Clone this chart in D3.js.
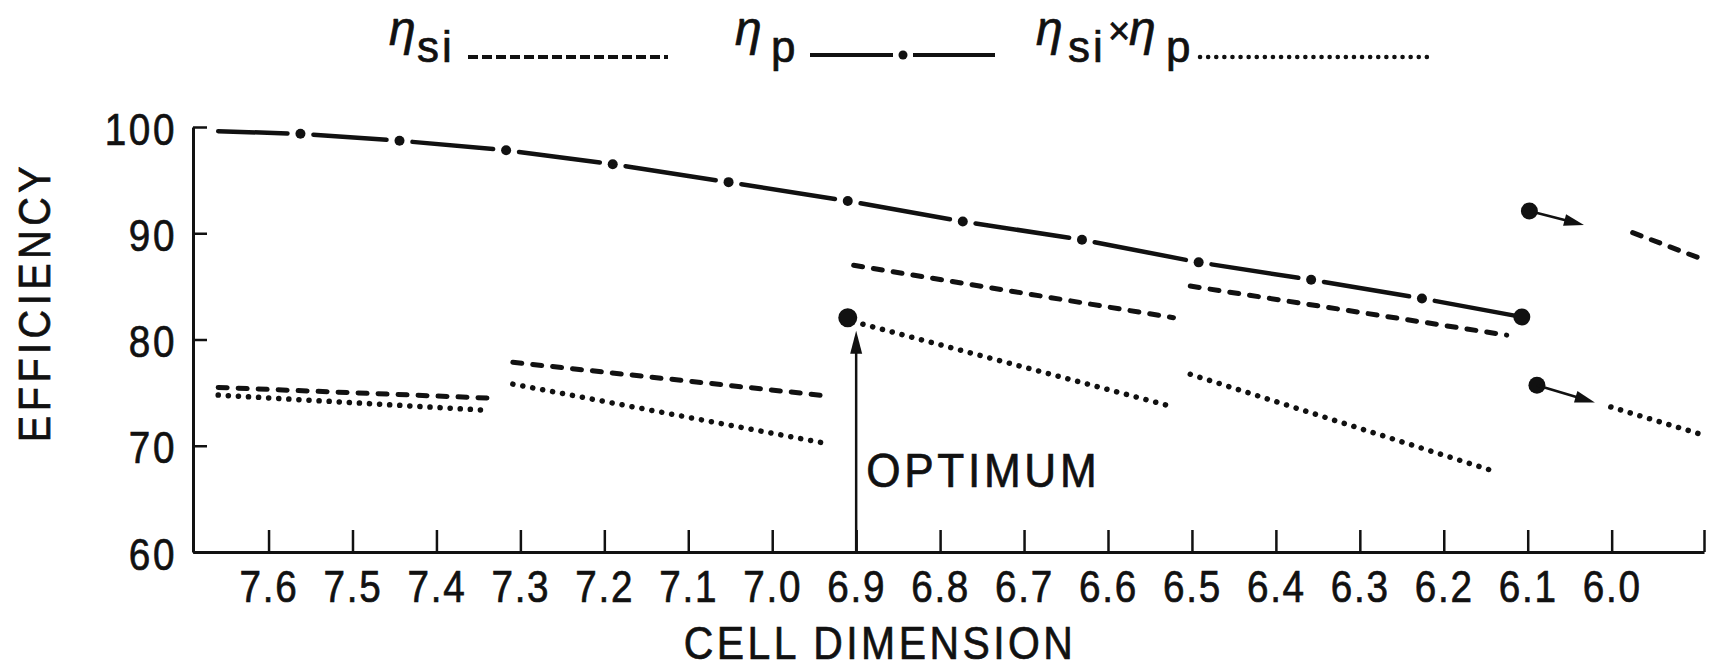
<!DOCTYPE html>
<html><head><meta charset="utf-8">
<script src="https://cdn.jsdelivr.net/npm/d3@7"></script>
<style>
html,body{margin:0;padding:0;background:#fff;}
svg{display:block;}
text{font-family:"Liberation Sans",Arial,Helvetica,sans-serif;fill:#111;stroke:#111;stroke-width:0.7px;}
</style></head><body>
<svg id="chart" width="1714" height="671"></svg>
<script>
// Axis ticks: cell dimension runs from large (left) to small (right)
const cellTicks = [7.6,7.5,7.4,7.3,7.2,7.1,7.0,6.9,6.8,6.7,6.6,6.5,6.4,6.3,6.2,6.1,6.0];
const effTicks = [60,70,80,90,100];

// η_p dash-dot curve; the first point only starts the line, the rest carry dots
const etaPX = [7.66,7.562,7.444,7.317,7.190,7.052,6.910,6.773,6.631,6.492,6.358,6.226,6.107];
const etaPY = [99.6,99.36,98.71,97.81,96.50,94.81,93.03,91.11,89.39,87.26,85.62,83.86,82.12];

// η_si dashed segments (start, end)
const etaSiSegments = [
  [[7.660,75.49],[7.332,74.47]],
  [[7.309,77.85],[6.932,74.67]],
  [[6.903,86.98],[6.522,82.05]],
  [[6.502,85.03],[6.125,80.41]],
  [[5.975,90.06],[5.890,87.50]]
];
// η_si × η_p dotted segments (start, end)
const productSegments = [
  [[7.660,74.77],[7.340,73.34]],
  [[7.309,75.80],[6.932,70.16]],
  [[6.892,81.44],[6.522,73.65]],
  [[6.502,76.73],[6.144,67.70]],
  [[6.001,73.65],[5.890,70.99]]
];

// Optimum point and the two markers that carry over past 6.1
const optimum = [6.91,82.05];
const carryMarkers = [
  {from:[6.098,92.10], to:[6.033,90.78]},
  {from:[6.089,75.69], to:[6.020,74.08]}
];

const svg = d3.select("#chart");
const pLeft = 193, pRight = 1704, pTop = 127, pBottom = 552;

const x = d3.scaleLinear().domain([7.69,5.89]).range([pLeft,pRight]);
const y = d3.scaleLinear().domain([60,100]).range([pBottom,pTop]);

const ink = "#111";
const squeeze = 0.86;   // narrow, tall lettering

// y axis with inward ticks
const yAxis = svg.append("g").attr("transform",`translate(${pLeft},0)`)
  .call(d3.axisLeft(y).tickValues(effTicks).tickSizeInner(-14).tickSizeOuter(0).tickPadding(18));
yAxis.select(".domain").attr("stroke",ink).attr("stroke-width",3);
yAxis.selectAll(".tick line").attr("stroke",ink).attr("stroke-width",2.5);
yAxis.selectAll(".tick text").attr("font-size",45).attr("letter-spacing",3).attr("fill",ink).attr("font-family",null)
  .attr("x",-16/squeeze).attr("dy","0.38em").attr("transform",`scale(${squeeze},1)`);

// x axis with inward ticks; the last tick closes the frame
const xAxis = svg.append("g").attr("transform",`translate(0,${pBottom})`)
  .call(d3.axisBottom(x).tickValues(cellTicks.concat([5.89])).tickFormat(d => d < 5.95 ? "" : d3.format(".1f")(d))
    .tickSizeInner(-22).tickSizeOuter(0).tickPadding(18));
xAxis.select(".domain").attr("stroke",ink).attr("stroke-width",3);
xAxis.selectAll(".tick line").attr("stroke",ink).attr("stroke-width",2.5);
xAxis.selectAll(".tick text").attr("font-size",45).attr("letter-spacing",2).attr("fill",ink).attr("font-family",null)
  .attr("transform",`scale(${squeeze},1)`);

// axis titles
svg.append("text").attr("transform",`translate(50,302) rotate(-90) scale(0.9,1)`).attr("text-anchor","middle")
  .attr("font-size",44).attr("letter-spacing",5).text("EFFICIENCY");
svg.append("text").attr("transform",`translate(880,659) scale(0.87,1)`).attr("text-anchor","middle")
  .attr("font-size",47).attr("letter-spacing",4).text("CELL DIMENSION");

const plot = svg.append("g");

// η_si dashed
plot.selectAll("line.si").data(etaSiSegments).join("line").attr("class","si")
  .attr("x1",d=>x(d[0][0])).attr("y1",d=>y(d[0][1])).attr("x2",d=>x(d[1][0])).attr("y2",d=>y(d[1][1]))
  .attr("stroke",ink).attr("stroke-width",5).attr("stroke-linecap","round").attr("stroke-dasharray","9 11");

// product dotted
plot.selectAll("line.prod").data(productSegments).join("line").attr("class","prod")
  .attr("x1",d=>x(d[0][0])).attr("y1",d=>y(d[0][1])).attr("x2",d=>x(d[1][0])).attr("y2",d=>y(d[1][1]))
  .attr("stroke",ink).attr("stroke-width",5.5).attr("stroke-linecap","round").attr("stroke-dasharray","0.1 10");

// η_p: solid dashes broken around each dot
const pPts = etaPX.map((v,i)=>[x(v), y(etaPY[i])]);
const gap = 13;
const pairs = d3.pairs(pPts);
plot.selectAll("line.p").data(pairs).join("line").attr("class","p")
  .each(function(d,i){
    const [a,b] = d;
    const dx=b[0]-a[0], dy=b[1]-a[1], L=Math.hypot(dx,dy), ux=dx/L, uy=dy/L;
    const g0 = i===0 ? 0 : gap;
    const g1 = i===pairs.length-1 ? 6 : gap;
    d3.select(this).attr("x1",a[0]+ux*g0).attr("y1",a[1]+uy*g0).attr("x2",b[0]-ux*g1).attr("y2",b[1]-uy*g1);
  })
  .attr("stroke",ink).attr("stroke-width",4.5).attr("stroke-linecap","round");
plot.selectAll("circle.pd").data(pPts.slice(1)).join("circle").attr("class","pd")
  .attr("cx",d=>d[0]).attr("cy",d=>d[1]).attr("r",(d,i,a)=> i===a.length-1 ? 8.5 : 5).attr("fill",ink);

// optimum marker with upward arrow from the axis
const ox = x(optimum[0]), oy = y(optimum[1]);
plot.append("circle").attr("cx",ox).attr("cy",oy).attr("r",9.5).attr("fill",ink);
plot.append("line").attr("x1",x(6.9)).attr("x2",x(6.9)).attr("y1",pBottom).attr("y2",oy+20)
  .attr("stroke",ink).attr("stroke-width",2.5);
plot.append("path").attr("d",`M${x(6.9)},${oy+13} L${x(6.9)-6},${oy+36} L${x(6.9)+6},${oy+36} Z`).attr("fill",ink);
svg.append("text").attr("transform",`translate(${x(6.9)+10},487) scale(0.92,1)`)
  .attr("font-size",48).attr("letter-spacing",4).text("OPTIMUM");

// carry-over markers with short arrows
carryMarkers.forEach(m=>{
  const ax=x(m.from[0]), ay=y(m.from[1]), bx=x(m.to[0]), by=y(m.to[1]);
  plot.append("circle").attr("cx",ax).attr("cy",ay).attr("r",8.5).attr("fill",ink);
  const dx=bx-ax, dy=by-ay, L=Math.hypot(dx,dy), ux=dx/L, uy=dy/L;
  plot.append("line").attr("x1",ax).attr("y1",ay).attr("x2",bx-ux*14).attr("y2",by-uy*14)
    .attr("stroke",ink).attr("stroke-width",2.5);
  const hx=bx-ux*20, hy=by-uy*20;
  plot.append("path").attr("d",`M${bx},${by} L${hx-uy*6},${hy+ux*6} L${hx+uy*6},${hy-ux*6} Z`).attr("fill",ink);
});

// legend
const leg = svg.append("g");
function eta(xp){ return leg.append("text").attr("x",xp).attr("y",45).attr("font-family","'Liberation Serif','DejaVu Serif',serif")
  .attr("font-style","italic").attr("font-size",48).attr("stroke-width",0.3).text("η"); }
function sub(xp,t){ return leg.append("text").attr("x",xp).attr("y",62).attr("font-size",44).attr("letter-spacing",3).text(t); }
eta(389); sub(417,"si");
leg.append("line").attr("x1",468).attr("x2",668).attr("y1",57).attr("y2",57).attr("stroke",ink).attr("stroke-width",4)
  .attr("stroke-dasharray","10 4");
eta(735); sub(771,"p");
leg.append("line").attr("x1",810).attr("x2",893).attr("y1",55).attr("y2",55).attr("stroke",ink).attr("stroke-width",4);
leg.append("line").attr("x1",913).attr("x2",995).attr("y1",55).attr("y2",55).attr("stroke",ink).attr("stroke-width",4);
leg.append("circle").attr("cx",903).attr("cy",55).attr("r",4.5).attr("fill",ink);
eta(1036); sub(1068,"si");
leg.append("text").attr("x",1108).attr("y",44).attr("font-size",38).text("×");
eta(1129); sub(1166,"p");
leg.append("line").attr("x1",1200).attr("x2",1432).attr("y1",57).attr("y2",57).attr("stroke",ink).attr("stroke-width",4.5)
  .attr("stroke-linecap","round").attr("stroke-dasharray","0.1 8");
</script>
</body></html>
